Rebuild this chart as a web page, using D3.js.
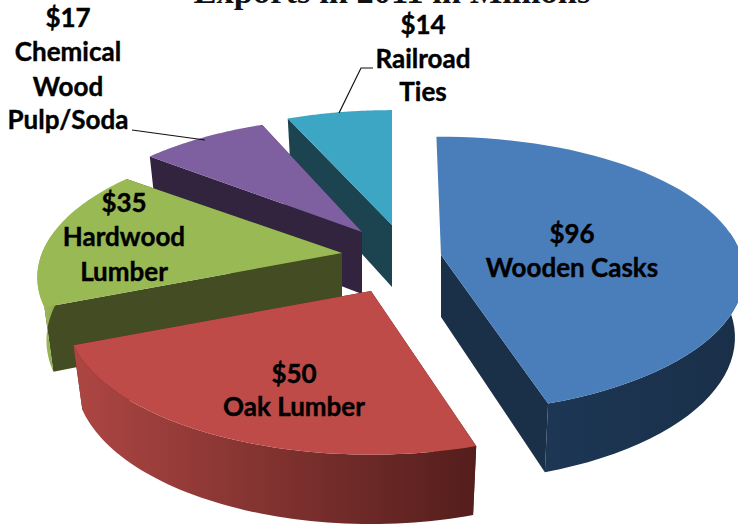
<!DOCTYPE html>
<html><head><meta charset="utf-8">
<style>html,body{margin:0;padding:0;background:#fff;overflow:hidden}svg{display:block}</style>
<script src="https://cdnjs.cloudflare.com/ajax/libs/d3/7.8.5/d3.min.js"></script></head>
<body><script>
const categories = ["Wooden Casks","Oak Lumber","Hardwood Lumber","Chemical Wood Pulp/Soda","Railroad Ties"];
const values = [96,50,35,17,14];
const labelLines = [["$96","Wooden Casks"],["$50","Oak Lumber"],["$35","Hardwood","Lumber"],["$17","Chemical","Wood","Pulp/Soda"],["$14","Railroad","Ties"]];
const title = "Exports in 2011 in Millions";

// styling and layout
const topColors = ["#4a7ebb","#be4b48","#98b954","#7e60a0","#3da6c4"];
const faceColors = ["#1a3049","#571f1d","#434c22","#32243f","#1c4350"];
const wallStops = [["#1c3654","#1a3049"],["#ad4643","#541e1c"],["#a0bc5c","#8aa64c"],["#32243f","#32243f"],["#1c4350","#1c4350"]];
const wallX = [[546,738],[75,473],[40,60],[150,360],[290,392]];
const apex = [[441,255],[371,291],[342,253],[362,232],[392,225]];
const turn = [-1,0,0,1,0];          // small per-slice view rotation, degrees
const perspective = [0.142,0.175,0.175,0.175,0.175];
const labelX = [572,294,124,68,423];
const labelY = [[234,268],[374,407],[203,237,272],[18,52,87,120],[25,59,92]];
const drawOrder = [4,3,2,1,0];
const W=738,H=527, A=300,B=135, DEPTH=62;

const svg = d3.select("body").append("svg").attr("width",W).attr("height",H).attr("viewBox",`0 0 ${W} ${H}`);
const defs = svg.append("defs");
const arcs = d3.pie().sort(null).startAngle(0).endAngle(2*Math.PI)(values);
const line = d3.line();

function plane(i,t,r){ const th=t+turn[i]*Math.PI/180,u=Math.sin(th)*r,v=Math.cos(th)*r,w=1+perspective[i]*v; return [A*u/w,-B*v/w]; }
function upper(i,t,r=1){ const [X,Y]=plane(i,t,r); return [apex[i][0]+X, apex[i][1]+Y]; }
function lower(i,t,r=1){ const [X,Y]=plane(i,t,r); return [apex[i][0]+X*0.97, apex[i][1]+Y+DEPTH+0.045*Y]; }

drawOrder.forEach(i=>{
  const a=arcs[i], ts=d3.range(0,61).map(j=>a.startAngle+(a.endAngle-a.startAngle)*j/60);
  const g=svg.append("g").attr("class","slice");
  const gid="wall"+i;
  const lg=defs.append("linearGradient").attr("id",gid).attr("gradientUnits","userSpaceOnUse")
    .attr("x1",wallX[i][0]).attr("x2",wallX[i][1]).attr("y1",0).attr("y2",0);
  lg.append("stop").attr("offset",0).attr("stop-color",wallStops[i][0]);
  lg.append("stop").attr("offset",1).attr("stop-color",wallStops[i][1]);
  // cut faces (the face at the top of the pie points away from the viewer)
  [a.startAngle,a.endAngle].filter(t=>t>0).forEach(t=>{
    g.append("path").attr("d",line([upper(i,t,0),upper(i,t),lower(i,t),lower(i,t,0)])+"Z").attr("fill",faceColors[i]);
  });
  // outer wall, only where it faces the viewer
  const front=ts.filter(t=>Math.cos(t)<0.15);
  if(front.length>1) g.append("path").attr("d",line([...front.map(t=>upper(i,t)),...front.slice().reverse().map(t=>lower(i,t))])+"Z").attr("fill",`url(#${gid})`);
  // top surface
  g.append("path").attr("d",line([upper(i,0,0),...ts.map(t=>upper(i,t))])+"Z").attr("fill",topColors[i]);
});

// leader lines
const leaders=[[[132,130],[205,140]],[[373,68],[361,68],[339,113]]];
leaders.forEach(p=>svg.append("path").attr("d",line(p)).attr("fill","none").attr("stroke","#111").attr("stroke-width",1.2));

// labels
labelLines.forEach((lines,i)=>{
  lines.forEach((s,j)=>{
    svg.append("text").attr("x",labelX[i]).attr("y",labelY[i][j]).attr("dy","0.35em")
      .attr("text-anchor","middle").attr("font-family","Lato, 'Open Sans', sans-serif").attr("font-weight",700)
      .attr("font-size",26).attr("fill","#000").attr("stroke","#000").attr("stroke-width",0.4).text(s);
  });
});
svg.append("text").attr("x",392).attr("y",3).attr("text-anchor","middle")
  .attr("font-family","'Liberation Serif', serif").attr("font-weight",700).attr("font-size",34.5).attr("fill","#111").text(title);
</script></body></html>
